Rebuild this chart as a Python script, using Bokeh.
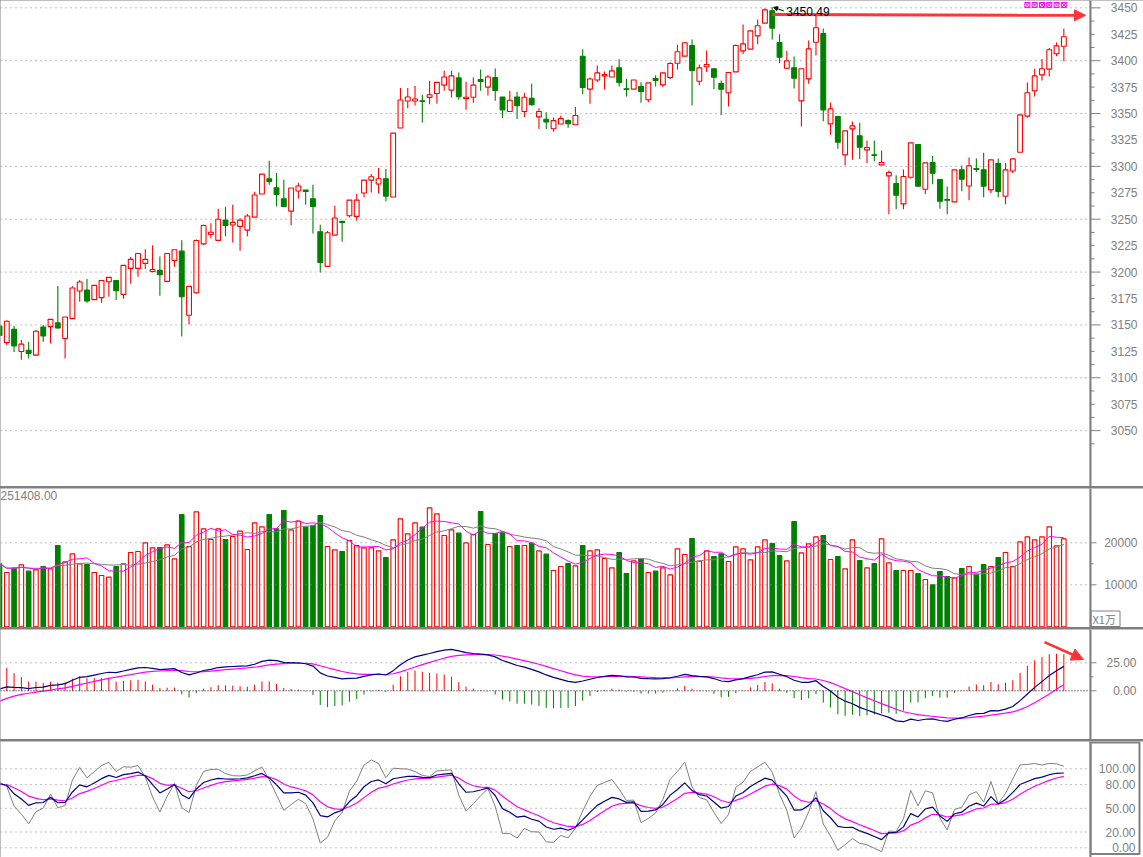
from bokeh.plotting import figure
from bokeh.layouts import column, row
from bokeh.models import (Range1d, Span, Label, Arrow, NormalHead, ColumnDataSource)
from bokeh.core.properties import value
from bokeh.embed import file_html
from bokeh.resources import INLINE

# ---------------- data ----------------
opens = [3149, 3133.3, 3145.9, 3124.8, 3126.1, 3121.4, 3148.1, 3148.4, 3151.9, 3137.1,
         3156, 3182.1, 3183, 3173.9, 3175.8, 3190.9, 3192.1, 3178.9, 3203.5, 3203.5,
         3208.2, 3200.6, 3201.6, 3191.2, 3211, 3219.8, 3159.1, 3180.5, 3226.7, 3235.5,
         3230, 3249.2, 3244.5, 3243.2, 3239.7, 3252, 3273.8, 3288.3, 3279.8, 3269.4,
         3257.7, 3276.7, 3277.6, 3269.4, 3238.2, 3205.4, 3235, 3248, 3253.3, 3252.7,
         3274.8, 3287, 3283.3, 3288.3, 3271, 3336.3, 3361.8, 3361.8, 3362.1, 3365.3,
         3368.9, 3376.9, 3372.1, 3383.7, 3364.1, 3365.4, 3382.1, 3375, 3384, 3365.7,
         3351.9, 3365.7, 3351.9, 3364.4, 3346.8, 3344.6, 3335.6, 3340.1, 3343.3, 3339.4,
         3404.2, 3373.1, 3381.7, 3385.6, 3384.6, 3393.3, 3373.4, 3373.1, 3375.5, 3363,
         3383.1, 3377.1, 3384.1, 3397.6, 3404.3, 3414.4, 3380.6, 3394.2, 3392.3, 3378.4,
         3369.6, 3389.4, 3409.3, 3410.9, 3423.5, 3435.5, 3447.2, 3417.2, 3392.9, 3393.2,
         3362, 3382.8, 3417.5, 3425.7, 3340.2, 3347.2, 3310.9, 3335.5, 3328.9, 3315.6,
         3310.9, 3301.4, 3291, 3283.8, 3264.5, 3289.7, 3320.7, 3278.4, 3303.6, 3287.5,
         3268.6, 3266.4, 3296.7, 3281.5, 3297.9, 3296.7, 3277.8, 3302.7, 3271.8, 3295.7,
         3313.4, 3347.5, 3371.5, 3386.6, 3392, 3406.5, 3413.7]
highs = [3151, 3154.4, 3149, 3135.8, 3134, 3145, 3150, 3155.5, 3186.8, 3157.5,
         3186.5, 3192.5, 3193.4, 3187.4, 3192.1, 3195, 3192.1, 3206.3, 3214.2, 3217.6,
         3221.7, 3225.5, 3214.8, 3217.6, 3221.1, 3230.2, 3186.5, 3230.8, 3245, 3246.2,
         3260, 3261.8, 3263.7, 3251, 3254.9, 3276, 3292.7, 3305.4, 3293.7, 3287.4,
         3279.5, 3284.5, 3277.6, 3282.6, 3244.8, 3238.8, 3262.8, 3248, 3268.1, 3273.8,
         3287, 3292.7, 3298.4, 3297.5, 3331.5, 3374.1, 3374.1, 3376, 3367.8, 3381.1,
         3380.1, 3390.4, 3390.4, 3388.8, 3380.1, 3384, 3391.7, 3386.5, 3392.6, 3365.7,
         3371.5, 3370.5, 3369.6, 3378.2, 3355.1, 3351.3, 3346.2, 3348.1, 3344.6, 3356.1,
         3410.9, 3384, 3395.5, 3389.7, 3395.5, 3401.3, 3383, 3381.7, 3379.5, 3379,
         3386.3, 3388.5, 3398.6, 3415, 3417.5, 3420, 3396.4, 3409.6, 3392.3, 3381.2,
         3388.8, 3415.3, 3434.2, 3428.2, 3439, 3449.5, 3450.49, 3425.1, 3409.3, 3403.9,
         3392.3, 3419.1, 3442.7, 3430.4, 3360.4, 3347.2, 3333.6, 3342.4, 3341.2, 3324.4,
         3324.4, 3315, 3296.1, 3291.6, 3297, 3322.2, 3320.7, 3303.3, 3309.9, 3287.5,
         3280.9, 3296.7, 3300.8, 3308.4, 3307.4, 3312.8, 3306.2, 3307.4, 3303.3, 3307.1,
         3348.7, 3379.3, 3392.3, 3401.7, 3412.1, 3417.2, 3430.1]
lows = [3139, 3131, 3124.5, 3117, 3118.2, 3121, 3134, 3132.4, 3146.5, 3118.2,
        3156, 3172, 3171, 3173.9, 3171, 3176.7, 3173.6, 3174.8, 3189, 3195.6,
        3203, 3199.7, 3177.7, 3190.3, 3205, 3139, 3150.3, 3179.6, 3225.8, 3231.8,
        3230, 3233.8, 3228, 3220.2, 3233.8, 3252, 3273.8, 3282.6, 3262.1, 3262.1,
        3244.2, 3269.7, 3263.7, 3236.6, 3199.7, 3205.4, 3235, 3228.7, 3251.7, 3248.6,
        3270.7, 3275.4, 3274.4, 3266.9, 3271, 3336.3, 3354.9, 3357.7, 3341.6, 3358.7,
        3359.3, 3371.5, 3365.1, 3363.1, 3353.5, 3360.3, 3371.5, 3367, 3362.2, 3345.8,
        3351.9, 3344.9, 3346.8, 3357.4, 3335.3, 3335.3, 3332.7, 3340.1, 3336.5, 3339.4,
        3368.3, 3359.3, 3379.5, 3372.8, 3384.6, 3375.6, 3366, 3373.1, 3360.3, 3360.7,
        3375.6, 3374.9, 3382.5, 3391.6, 3404.3, 3357.6, 3376.8, 3389.4, 3373, 3348.4,
        3356.6, 3389.4, 3406.2, 3410.9, 3415.6, 3435.5, 3420, 3397.6, 3392, 3373.7,
        3337.7, 3378.1, 3404.9, 3342.7, 3330, 3316.6, 3300.8, 3306.2, 3307.1, 3303,
        3304.9, 3301.4, 3254.7, 3259.5, 3259.5, 3288.5, 3281.2, 3273.7, 3283.1, 3260,
        3254.7, 3266.4, 3276.5, 3268, 3294.8, 3270.8, 3274.6, 3270.8, 3264.2, 3293.5,
        3313.4, 3346.2, 3366.1, 3381.2, 3385, 3404.3, 3399.5]
closes = [3140, 3153.5, 3130.2, 3131.8, 3123, 3144, 3139.6, 3155.3, 3147.2, 3157.5,
          3184.9, 3190.6, 3172.6, 3187.4, 3192.1, 3195, 3182.4, 3206.3, 3212, 3217.6,
          3212, 3202.5, 3197.5, 3217.6, 3221.1, 3176.7, 3186.5, 3229.9, 3244, 3237.7,
          3250, 3244.2, 3247, 3249.2, 3253, 3272.9, 3292.7, 3285.8, 3273.5, 3262.1,
          3279.5, 3281.4, 3276.3, 3262.1, 3209.1, 3237.2, 3251.1, 3247, 3268.1, 3268.1,
          3287, 3290.2, 3288.3, 3271.9, 3331.5, 3362.8, 3365.6, 3363.7, 3361.5, 3367.8,
          3379.5, 3384.6, 3385.6, 3366, 3365.4, 3376.9, 3380.4, 3384.6, 3371.8, 3353.5,
          3362.5, 3357.4, 3365.4, 3358.3, 3351.9, 3342, 3343.3, 3345.2, 3340.4, 3348.1,
          3374.7, 3382.7, 3388.5, 3386.9, 3390.4, 3379.5, 3372.8, 3381.7, 3370.8, 3379,
          3381.2, 3388.5, 3397.3, 3408.4, 3416.9, 3390.7, 3393.2, 3396.4, 3384.4, 3373,
          3388.8, 3414.4, 3415.9, 3428.2, 3433, 3448.1, 3430.8, 3403.3, 3399.8, 3383.4,
          3392.3, 3411.2, 3431.1, 3353.5, 3354.4, 3322.9, 3333.6, 3338.3, 3318.1, 3317.8,
          3310.3, 3303.6, 3294.2, 3272.7, 3290.4, 3322.2, 3281.2, 3303.3, 3293.5, 3267,
          3268, 3296.7, 3287.9, 3300.5, 3297, 3281.2, 3306.2, 3276.2, 3296.7, 3307.1,
          3348.7, 3369.6, 3385.6, 3392.3, 3410.3, 3414, 3422.6]
volumes = [15000, 12929, 13960, 14755, 13246, 13564, 14357, 13802, 19357, 15469,
           17374, 14993, 14834, 12929, 12214, 11817, 14357, 14993, 17691, 17929,
           19993, 18803, 18881, 19517, 16184, 26739, 19120, 27374, 23327, 20786,
           23327, 20786, 21500, 22770, 18405, 24755, 23803, 26739, 23327, 27691,
           23088, 25151, 23722, 24120, 26501, 19120, 18327, 17929, 20548, 19357,
           18803, 18803, 18088, 16500, 20707, 25707, 22136, 24755, 23722, 28327,
           26898, 21739, 23088, 22293, 19993, 21977, 27453, 19596, 22136, 22374,
           19120, 19357, 19357, 19913, 18088, 17294, 13405, 14357, 15072, 14517,
           19357, 18088, 18327, 16262, 14040, 17691, 12691, 15707, 16103, 12929,
           13246, 14040, 12374, 18565, 17215, 21024, 15627, 18088, 16739, 17374,
           15548, 19041, 18565, 15945, 19041, 20707, 19834, 16977, 15707, 25072,
           17612, 19755, 21421, 21739, 16025, 16739, 13802, 20707, 15786, 14040,
           15072, 20945, 15231, 13405, 13405, 13405, 12691, 11262, 9993, 13167,
           11976, 11659, 13881, 14357, 12532, 14834, 14357, 16500, 17691, 14357,
           20231, 21421, 20707, 21421, 23803, 19279, 20945]

price_ticks = [3050, 3075, 3100, 3125, 3150, 3175, 3200, 3225, 3250, 3275, 3300,
               3325, 3350, 3375, 3400, 3425, 3450]
price_grid = [3050, 3100, 3150, 3200, 3250, 3300, 3350, 3400, 3450]
vol_ticks = [10000, 20000]
vol_minor = [15000]
macd_ticks = [0, 25]
macd_minor = [12.5]
kdj_ticks = [0, 20, 50, 80, 100]
vol_caption = "251408.00"
vol_unit = "X1万"
peak_text = "3450.49"
signal_idx = [141, 142, 143, 144, 145, 146]

# indicator state at the first visible bar
MACD_SEED = (3128.0, 3126.4, -9.3)   # EMA12, EMA26, DEA
KDJ_SEED = (81.2, 80.4)              # K, D
KDJ_PRIOR_RANGE = (3174.0, 3092.0)   # high / low of the bars before the window

# ---------------- indicators (standard definitions) ----------------
N = len(closes)
idx = list(range(N))
a12, a26, a9 = 2 / 13, 2 / 27, 2 / 10
e12, e26, dea = MACD_SEED
dif_l, dea_l, hist_l = [], [], []
for i, c in enumerate(closes):
    if i > 0:
        e12 = a12 * c + (1 - a12) * e12
        e26 = a26 * c + (1 - a26) * e26
        dea = a9 * (e12 - e26) + (1 - a9) * dea
    dif = e12 - e26
    dif_l.append(dif)
    dea_l.append(dea)
    hist_l.append(2 * (dif - dea))

k, d = KDJ_SEED
k_l, d_l, j_l = [], [], []
for i in range(N):
    lo = min(lows[max(0, i - 8):i + 1])
    hi = max(highs[max(0, i - 8):i + 1])
    if i < 8:
        hi = max(hi, KDJ_PRIOR_RANGE[0])
        lo = min(lo, KDJ_PRIOR_RANGE[1])
    rsv = (closes[i] - lo) / (hi - lo) * 100 if hi > lo else 50
    if i > 0:
        k = (2 * k + rsv) / 3
        d = (2 * d + k) / 3
    k_l.append(k)
    d_l.append(d)
    j_l.append(3 * k - 2 * d)

ma5 = [sum(volumes[max(0, i - 4):i + 1]) / len(volumes[max(0, i - 4):i + 1]) for i in range(N)]
ma10 = [sum(volumes[max(0, i - 9):i + 1]) / len(volumes[max(0, i - 9):i + 1]) for i in range(N)]

# ---------------- styling / geometry ----------------
RED = "#ff0000"
GREEN = "#008000"
GREY = "#808080"
NAVY = "#000080"
MAG = "#ff00ff"
FONT = "Liberation Sans"

BAR_PX = 7.29
X0_PX = -1.0
FRAME_W = 1089
SIDE_W = 54


def px_x(px):
    return (px - X0_PX) / BAR_PX


xr = Range1d(px_x(0), px_x(FRAME_W))


def price_at(py):
    return 3450 - (py - 7.33) / 1.057


def vol_at(py):
    return (626.3 - py) / 42 * 10000


def macd_at(py):
    return (690.3 - py) / 1.12


def kdj_at(py):
    return (847.3 - py) / 0.79


up = [c >= o for o, c in zip(opens, closes)]
col = [RED if u else GREEN for u in up]
fill = ["white" if u else GREEN for u in up]

src = ColumnDataSource(dict(
    x=idx, o=opens, h=highs, l=lows, c=closes,
    top=[max(o, c) for o, c in zip(opens, closes)],
    bot=[min(o, c) for o, c in zip(opens, closes)],
    col=col, fill=fill, vol=volumes, ma5=ma5, ma10=ma10,
    dif=dif_l, dea=dea_l, hist=hist_l,
    hcol=[RED if h >= 0 else GREEN for h in hist_l],
    k=k_l, d=d_l, j=j_l,
))


def base_fig(w, h, x_range, y_range):
    p = figure(frame_width=w, frame_height=h, x_range=x_range, y_range=y_range,
               output_backend="svg", toolbar_location=None,
               min_border_left=0, min_border_right=0, min_border_top=0,
               min_border_bottom=0, x_axis_location=None, y_axis_location=None)
    p.outline_line_color = None
    p.background_fill_color = "white"
    p.border_fill_color = "white"
    p.xgrid.visible = False
    p.ygrid.visible = False
    return p


def make_panel(h, y0, y1, grid_ticks):
    yr = Range1d(y0, y1)
    p = base_fig(FRAME_W, h, xr, yr)
    for t in grid_ticks:
        p.add_layout(Span(location=t, dimension="width", line_color=GREY,
                          line_dash="1 4", line_width=1))
    # right-hand scale panel (axis line, ticks, labels) in screen-pixel x units
    s = base_fig(SIDE_W, h, Range1d(FRAME_W, FRAME_W + SIDE_W), yr)
    s.add_layout(Span(location=FRAME_W + 1, dimension="height", line_color=GREY,
                      line_width=2))
    return p, s


def add_ticks(s, ticks, length):
    if ticks:
        s.segment(x0=[FRAME_W] * len(ticks), y0=ticks,
                  x1=[FRAME_W + 1 + length] * len(ticks), y1=ticks,
                  line_color=GREY, line_width=1)


def add_labels(s, ticks, texts, right_px):
    s.text(x=[right_px] * len(ticks), y=ticks, text=texts, text_align="right",
           text_baseline="middle", text_font=value(FONT), text_font_size="12px",
           text_color=GREY)


# ---- price panel ----
p1, s1 = make_panel(486, price_at(486), price_at(0), price_grid)
p1.segment(x0="x", y0="h", x1="x", y1="l", color="col", line_width=1.1, source=src)
p1.vbar(x="x", width=0.66, top="top", bottom="bot", fill_color="fill",
        line_color="col", line_width=1.1, source=src)
minor_price = [3037.5 + 12.5 * i for i in range(35) if (3037.5 + 12.5 * i) % 50 != 0]
add_ticks(s1, price_grid, 10)
add_ticks(s1, minor_price, 4)
add_labels(s1, price_ticks, [f"{t}" for t in price_ticks], 1137)

peak_i = highs.index(max(highs))
peak_v = max(highs)
p1.add_layout(Arrow(end=NormalHead(size=11, fill_color="#ff3535", line_color="#ff3535"),
                    x_start=peak_i, y_start=peak_v - 6.8, x_end=px_x(1085),
                    y_end=peak_v - 7.6, line_color="#ff3535", line_width=3))
p1.add_layout(Label(x=peak_i, y=peak_v, x_offset=14, y_offset=-4, text=peak_text,
                    text_baseline="middle", text_font=FONT, text_font_size="12px",
                    text_color="black"))
p1.add_layout(Arrow(end=NormalHead(size=4, fill_color="black", line_color="black"),
                    x_start=peak_i + 1.6, y_start=peak_v - 3.5, x_end=peak_i + 0.2,
                    y_end=peak_v, line_color="black", line_width=1))
p1.scatter(x=signal_idx, y=[price_at(4.5)] * len(signal_idx), marker="square_x",
           size=5, line_color=MAG, fill_color=None, line_width=1)

# ---- volume panel ----
p2, s2 = make_panel(139, vol_at(627), vol_at(488), vol_ticks)
p2.vbar(x="x", width=0.62, top="vol", bottom=0, fill_color="fill",
        line_color="col", line_width=1.1, source=src)
p2.line(x="x", y="ma10", color=GREY, line_width=1, source=src)
p2.line(x="x", y="ma5", color=MAG, line_width=1, source=src)
add_ticks(s2, vol_ticks, 6)
add_ticks(s2, vol_minor, 3)
add_labels(s2, vol_ticks, [f"{t}" for t in vol_ticks], 1137)
p2.add_layout(Label(x=px_x(0), y=vol_at(490), text=vol_caption, text_baseline="top",
                    text_font=FONT, text_font_size="12px", text_color=GREY))
s2.quad(left=[1090.5], right=[1119.5], top=[vol_at(610.5)], bottom=[vol_at(626)],
        fill_color="white", line_color=GREY, line_width=1)
s2.text(x=[1092], y=[vol_at(618.5)], text=[vol_unit], text_baseline="middle",
        text_font=value("Noto Sans CJK SC"), text_font_size="11px", text_color=GREY)

# ---- MACD panel ----
p3, s3 = make_panel(110, macd_at(739), macd_at(629), [25])
p3.add_layout(Span(location=0, dimension="width", line_color="black",
                   line_dash="1 2", line_width=1))
p3.segment(x0="x", y0=0, x1="x", y1="hist", color="hcol", line_width=1, source=src)
p3.line(x="x", y="dea", color=MAG, line_width=1.2, source=src)
p3.line(x="x", y="dif", color=NAVY, line_width=1.2, source=src)
add_ticks(s3, macd_ticks, 6)
add_ticks(s3, macd_minor, 3)
add_labels(s3, macd_ticks, [f"{t:.2f}" for t in macd_ticks], 1136)
p3.add_layout(Arrow(end=NormalHead(size=12, fill_color="#ff3030", line_color="#ff3030"),
                    x_start=px_x(1044), y_start=macd_at(641.7), x_end=px_x(1083),
                    y_end=macd_at(659), line_color="#ff3030", line_width=2.5))

# ---- KDJ panel ----
p4, s4 = make_panel(116, kdj_at(857), kdj_at(741), kdj_ticks)
p4.line(x="x", y="j", color=GREY, line_width=1, source=src)
p4.line(x="x", y="d", color=MAG, line_width=1.2, source=src)
p4.line(x="x", y="k", color=NAVY, line_width=1.2, source=src)
add_labels(s4, kdj_ticks, [f"{t:.2f}" for t in kdj_ticks], 1135)
s4.quad(left=[1090], right=[1139], top=[kdj_at(742)], bottom=[kdj_at(853.5)],
        fill_color=None, line_color=GREY, line_width=2)

layout = column(row(p1, s1, spacing=0), row(p2, s2, spacing=0),
                row(p3, s3, spacing=0), row(p4, s4, spacing=0),
                spacing=2, styles={"background-color": GREY})
p = layout
open("out.html", "w").write(file_html(p, INLINE))
